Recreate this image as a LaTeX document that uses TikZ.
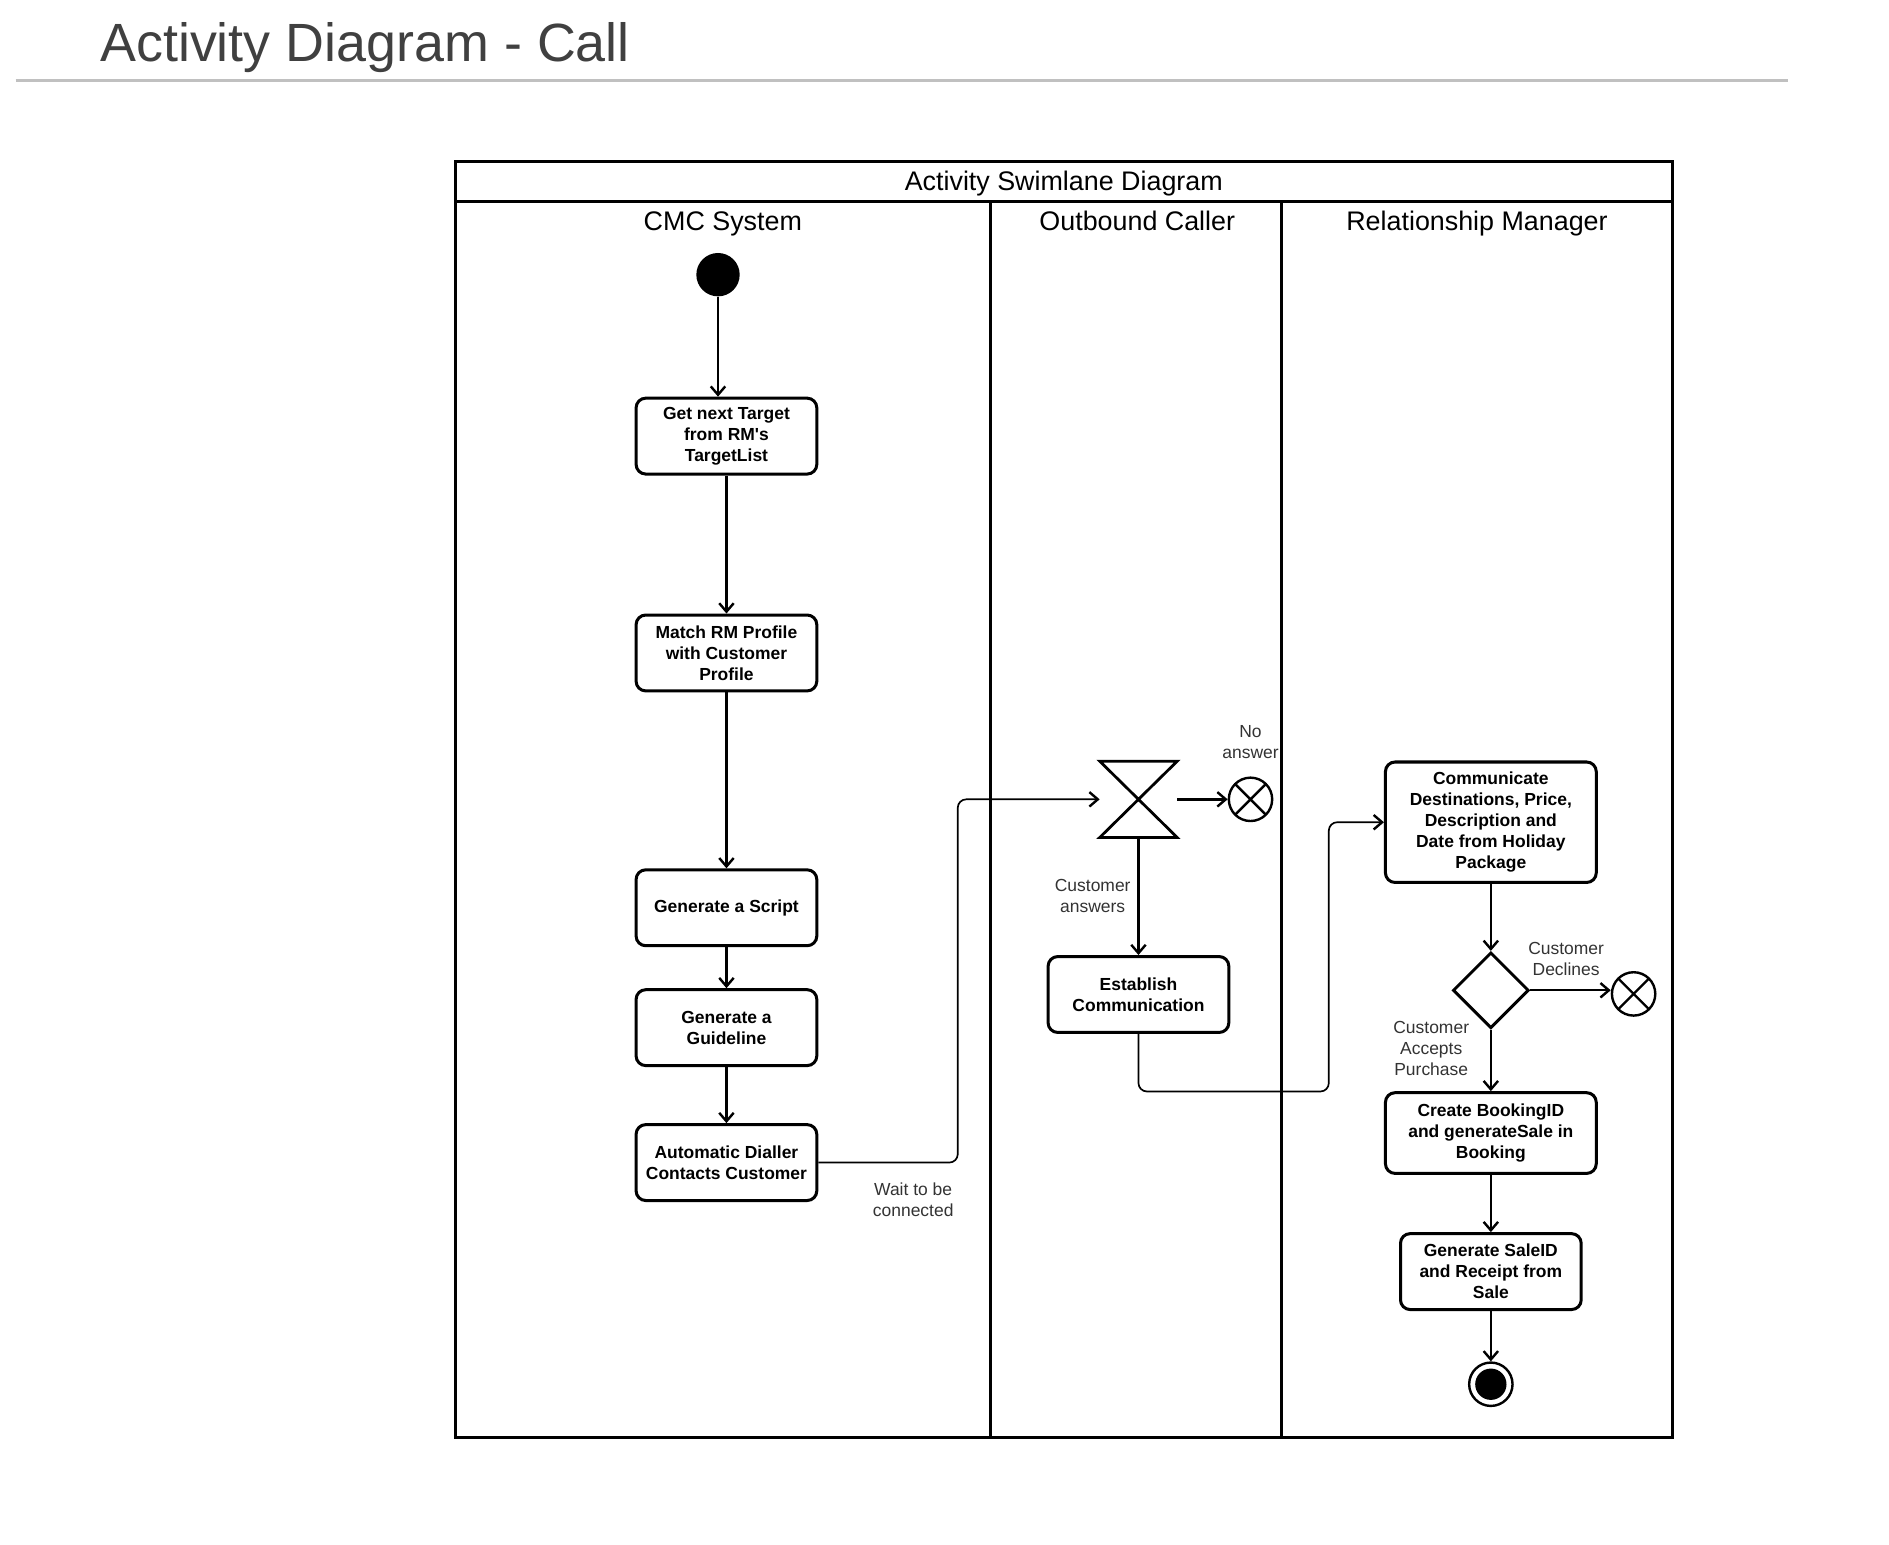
\documentclass[tikz,border=0pt]{standalone}
\usepackage{fontspec}
\setmainfont{Liberation Sans}
\usetikzlibrary{arrows.meta,shapes.geometric,calc}
\definecolor{titlegray}{HTML}{404040}
\definecolor{rulegray}{HTML}{C0C0C0}
\definecolor{labelgray}{HTML}{333333}
\begin{document}
\begin{tikzpicture}[x=1pt,y=-1pt,
  act/.style={draw, line width=2.5pt, rounded corners=8pt, align=center,
    font=\fontsize{14.5}{17.5}\selectfont\bfseries, minimum width=150pt,
    minimum height=63pt, inner sep=2pt},
  lbl/.style={align=center, text=labelgray, font=\fontsize{14.5}{17.5}\selectfont, inner sep=0pt},
  flow/.style={line width=2pt, -{Straight Barb[length=7pt,width=12pt]}},
  thinflow/.style={line width=1.4pt, rounded corners=7pt,
    -{Straight Barb[length=7pt,width=12pt,line width=2pt]}},
  lanehead/.style={font=\fontsize{22.3}{26}\selectfont, inner sep=0pt, anchor=base},
  ffinal/.style={circle, draw, line width=2pt, minimum size=36pt, inner sep=0pt,
    path picture={\draw[line width=2pt]
      (path picture bounding box.north west) -- (path picture bounding box.south east)
      (path picture bounding box.north east) -- (path picture bounding box.south west);}},
  frame/.style={line width=2.6pt},
]
\useasboundingbox (0,0) rectangle (1568,1282);

% page title
\node[anchor=base west, inner sep=0pt, text=titlegray,
  font=\fontsize{44.7}{50}\selectfont] (title) at (83,51) {Activity Diagram - Call};
\draw[rulegray, line width=2.5pt] (13,67) -- (1484,67);

% swimlane frame
\draw[frame] (378,134) rectangle (1388,1193);
\draw[frame] (378,167) -- (1388,167);
\draw[frame] (822,167) -- (822,1193);
\draw[frame] (1064,167) -- (1064,1193);
\node[lanehead] (pool) at (883,158) {Activity Swimlane Diagram};
\node[lanehead] (lane1) at (600,191) {CMC System};
\node[lanehead] (lane2) at (944,191) {Outbound Caller};
\node[lanehead] (lane3) at (1226,191) {Relationship Manager};

% CMC System lane
\node[circle, fill=black, minimum size=36pt, inner sep=0pt] (start) at (596,228) {};
\node[act] (b1) at (603,362) {Get next Target\\from RM\textquotesingle s\\TargetList};
\node[act] (b2) at (603,542) {Match RM Profile\\with Customer\\Profile};
\node[act] (b3) at (603,753.5) {Generate a Script};
\node[act] (b4) at (603,853) {Generate a\\Guideline};
\node[act] (b5) at (603,965) {Automatic Dialler\\Contacts Customer};

% Outbound Caller lane
\node[minimum width=64pt, minimum height=63pt, inner sep=0pt] (wait) at (945,663.5) {};
\draw[line width=2.3pt] (wait.north west) -- (wait.north east) -- (wait.south west)
  -- (wait.south east) -- cycle;
\node[ffinal] (ff1) at (1038,663.5) {};
\node[act] (est) at (945,825.5) {Establish\\Communication};

% Relationship Manager lane
\node[act, minimum width=175pt, minimum height=100pt] (comm) at (1237.5,682.5)
  {Communicate\\Destinations, Price,\\Description and\\Date from Holiday\\Package};
\node[diamond, draw, line width=2.4pt, minimum width=63pt, minimum height=63pt,
  inner sep=0pt] (dia) at (1237.5,822) {};
\node[ffinal] (ff2) at (1356,825) {};
\node[act, minimum width=175pt, minimum height=67pt] (create) at (1237.5,940.5)
  {Create BookingID\\and generateSale in\\Booking};
\node[act] (sale) at (1237.5,1055.5) {Generate SaleID\\and Receipt from\\Sale};
\node[circle, draw, line width=2pt, minimum size=36pt, inner sep=0pt,
  path picture={\fill (path picture bounding box.center) circle (13pt);}] (end) at (1237.5,1149) {};

% labels
\node[lbl] (lno) at (1038,616) {No\\answer};
\node[lbl] (lans) at (907,744) {Customer\\answers};
\node[lbl] (lwait) at (758,996) {Wait to be\\connected};
\node[lbl] (ldec) at (1300,796) {Customer\\Declines};
\node[lbl] (lacc) at (1188,870) {Customer\\Accepts\\Purchase};

% connectors
\draw[flow] (start) -- (start |- b1.north);
\draw[flow] (b1) -- (b2);
\draw[flow] (b2) -- (b3);
\draw[flow] (b3) -- (b4);
\draw[flow] (b4) -- (b5);
\coordinate (j1) at (795,663.5);
\draw[thinflow] (b5.east) -| (j1) -- (wait.west);
\draw[flow] (wait.east) -- (ff1);
\draw[flow] (wait.south) -- (est.north);
\coordinate (j2) at (1103,906);
\draw[thinflow] (est.south) |- (j2) |- (comm.west);
\draw[flow] (comm) -- (dia);
\draw[flow] (dia.east) -- (dia.east -| ff2.west);
\draw[flow] (dia) -- (create);
\draw[flow] (create) -- (sale);
\draw[flow] (sale) -- (end);
\end{tikzpicture}
\end{document}
